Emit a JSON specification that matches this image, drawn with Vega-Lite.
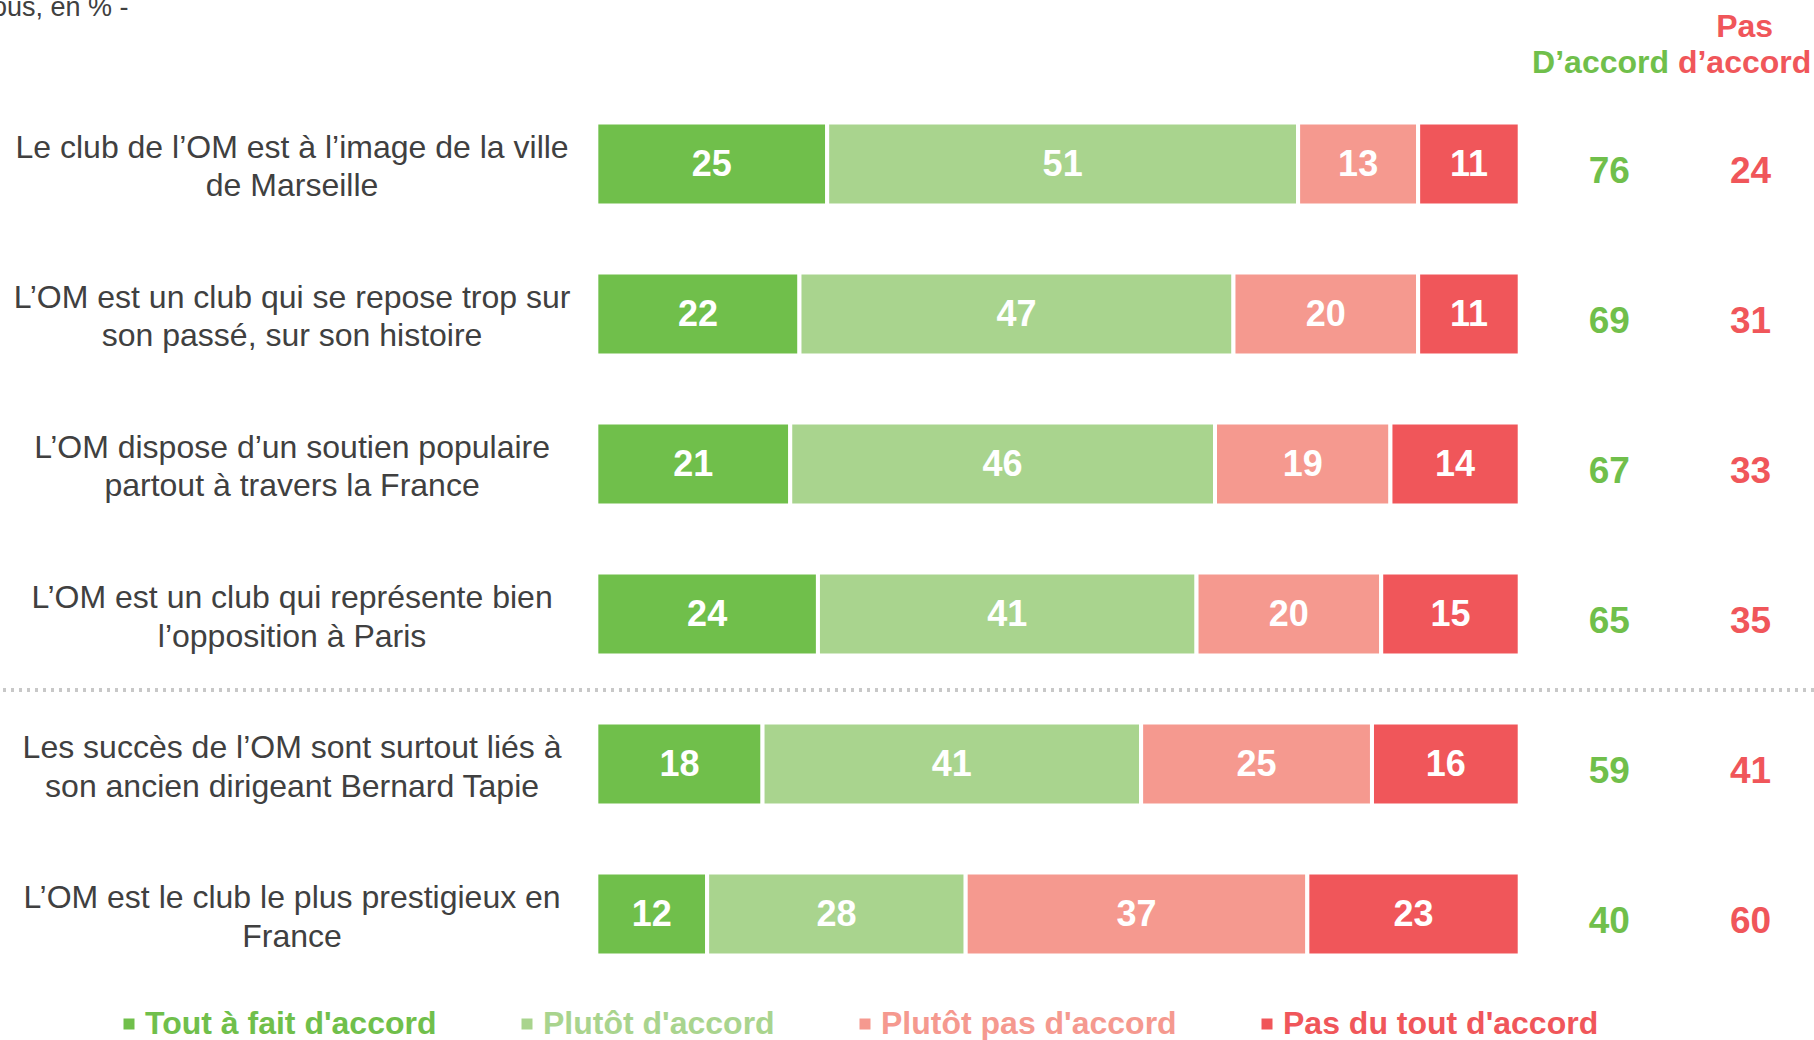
{
  "$schema": "https://vega.github.io/schema/vega-lite/v6.json",
  "width": 1814,
  "height": 900,
  "autosize": {"type": "none"},
  "padding": {"left": 0, "top": 89, "right": 0, "bottom": 51},
  "background": "white",
  "config": {
    "font": "Liberation Sans",
    "view": {"stroke": null},
    "title": {"font": "Liberation Sans"}
  },
  "title": {
    "text": "ous, en % -",
    "anchor": "start",
    "frame": "group",
    "fontSize": 27,
    "fontWeight": "normal",
    "color": "#404040",
    "baseline": "alphabetic",
    "dx": -8,
    "dy": 33,
    "offset": 0
  },
  "datasets": {
    "segments": [
      {"statement": "Le club de l’OM est à l’image de la ville\nde Marseille", "answer": "Tout à fait d'accord", "rank": 1, "value": 25},
      {"statement": "Le club de l’OM est à l’image de la ville\nde Marseille", "answer": "Plutôt d'accord", "rank": 2, "value": 51},
      {"statement": "Le club de l’OM est à l’image de la ville\nde Marseille", "answer": "Plutôt pas d'accord", "rank": 3, "value": 13},
      {"statement": "Le club de l’OM est à l’image de la ville\nde Marseille", "answer": "Pas du tout d'accord", "rank": 4, "value": 11},
      {"statement": "L’OM est un club qui se repose trop sur\nson passé, sur son histoire", "answer": "Tout à fait d'accord", "rank": 1, "value": 22},
      {"statement": "L’OM est un club qui se repose trop sur\nson passé, sur son histoire", "answer": "Plutôt d'accord", "rank": 2, "value": 47},
      {"statement": "L’OM est un club qui se repose trop sur\nson passé, sur son histoire", "answer": "Plutôt pas d'accord", "rank": 3, "value": 20},
      {"statement": "L’OM est un club qui se repose trop sur\nson passé, sur son histoire", "answer": "Pas du tout d'accord", "rank": 4, "value": 11},
      {"statement": "L’OM dispose d’un soutien populaire\npartout à travers la France", "answer": "Tout à fait d'accord", "rank": 1, "value": 21},
      {"statement": "L’OM dispose d’un soutien populaire\npartout à travers la France", "answer": "Plutôt d'accord", "rank": 2, "value": 46},
      {"statement": "L’OM dispose d’un soutien populaire\npartout à travers la France", "answer": "Plutôt pas d'accord", "rank": 3, "value": 19},
      {"statement": "L’OM dispose d’un soutien populaire\npartout à travers la France", "answer": "Pas du tout d'accord", "rank": 4, "value": 14},
      {"statement": "L’OM est un club qui représente bien\nl’opposition à Paris", "answer": "Tout à fait d'accord", "rank": 1, "value": 24},
      {"statement": "L’OM est un club qui représente bien\nl’opposition à Paris", "answer": "Plutôt d'accord", "rank": 2, "value": 41},
      {"statement": "L’OM est un club qui représente bien\nl’opposition à Paris", "answer": "Plutôt pas d'accord", "rank": 3, "value": 20},
      {"statement": "L’OM est un club qui représente bien\nl’opposition à Paris", "answer": "Pas du tout d'accord", "rank": 4, "value": 15},
      {"statement": "Les succès de l’OM sont surtout liés à\nson ancien dirigeant Bernard Tapie", "answer": "Tout à fait d'accord", "rank": 1, "value": 18},
      {"statement": "Les succès de l’OM sont surtout liés à\nson ancien dirigeant Bernard Tapie", "answer": "Plutôt d'accord", "rank": 2, "value": 41},
      {"statement": "Les succès de l’OM sont surtout liés à\nson ancien dirigeant Bernard Tapie", "answer": "Plutôt pas d'accord", "rank": 3, "value": 25},
      {"statement": "Les succès de l’OM sont surtout liés à\nson ancien dirigeant Bernard Tapie", "answer": "Pas du tout d'accord", "rank": 4, "value": 16},
      {"statement": "L’OM est le club le plus prestigieux en\nFrance", "answer": "Tout à fait d'accord", "rank": 1, "value": 12},
      {"statement": "L’OM est le club le plus prestigieux en\nFrance", "answer": "Plutôt d'accord", "rank": 2, "value": 28},
      {"statement": "L’OM est le club le plus prestigieux en\nFrance", "answer": "Plutôt pas d'accord", "rank": 3, "value": 37},
      {"statement": "L’OM est le club le plus prestigieux en\nFrance", "answer": "Pas du tout d'accord", "rank": 4, "value": 23}
    ],
    "rows": [
      {"statement": "Le club de l’OM est à l’image de la ville\nde Marseille", "accord": 76, "pas": 24},
      {"statement": "L’OM est un club qui se repose trop sur\nson passé, sur son histoire", "accord": 69, "pas": 31},
      {"statement": "L’OM dispose d’un soutien populaire\npartout à travers la France", "accord": 67, "pas": 33},
      {"statement": "L’OM est un club qui représente bien\nl’opposition à Paris", "accord": 65, "pas": 35},
      {"statement": "Les succès de l’OM sont surtout liés à\nson ancien dirigeant Bernard Tapie", "accord": 59, "pas": 41},
      {"statement": "L’OM est le club le plus prestigieux en\nFrance", "accord": 40, "pas": 60}
    ]
  },
  "resolve": {"axis": {"x": "independent"}},
  "layer": [
    {
      "data": {"name": "segments"},
      "mark": {"type": "bar", "stroke": "white", "strokeWidth": 4},
      "encoding": {
        "y": {
          "field": "statement",
          "type": "nominal",
          "sort": [
            "Le club de l’OM est à l’image de la ville\nde Marseille",
            "L’OM est un club qui se repose trop sur\nson passé, sur son histoire",
            "L’OM dispose d’un soutien populaire\npartout à travers la France",
            "L’OM est un club qui représente bien\nl’opposition à Paris",
            "Les succès de l’OM sont surtout liés à\nson ancien dirigeant Bernard Tapie",
            "L’OM est le club le plus prestigieux en\nFrance"
          ],
          "scale": {"paddingInner": 0.4467, "paddingOuter": 0.2233},
          "axis": null
        },
        "x": {
          "field": "value",
          "type": "quantitative",
          "stack": "zero",
          "scale": {"domain": [-64.58, 131.87], "nice": false, "zero": false},
          "axis": {
            "orient": "top",
            "values": [108.7, 124.3],
            "labelExpr": "datum.value < 115 ? ['', 'D’accord'] : ['Pas', 'd’accord']",
            "domain": false,
            "ticks": false,
            "grid": false,
            "title": null,
            "labelFontSize": 32,
            "labelFontWeight": "bold",
            "labelColor": {"condition": {"test": "datum.value < 115", "value": "#70BF4B"}, "value": "#F0565A"},
            "labelPadding": 46,
            "labelBaseline": "bottom",
            "labelLineHeight": 36.7,
            "labelFlush": false,
            "labelOverlap": false,
            "labelBound": false
          }
        },
        "color": {
          "field": "answer",
          "type": "nominal",
          "scale": {
            "domain": ["Tout à fait d'accord", "Plutôt d'accord", "Plutôt pas d'accord", "Pas du tout d'accord"],
            "range": ["#70BF4B", "#A9D48E", "#F5998F", "#F0565A"]
          },
          "legend": {
            "orient": "none",
            "legendX": 113,
            "legendY": 919,
            "direction": "horizontal",
            "columns": 4,
            "title": null,
            "labelFontSize": 32,
            "labelFontWeight": "bold",
            "labelColor": {"expr": "scale('color', datum.value)"},
            "symbolType": "square",
            "symbolSize": 121,
            "symbolStrokeWidth": 0,
            "labelOffset": 0,
            "columnPadding": 74,
            "padding": 0,
            "labelLimit": 600
          }
        },
        "order": {"field": "rank", "type": "quantitative"}
      }
    },
    {
      "data": {"name": "rows"},
      "mark": {"type": "rule", "color": "#C8C8C8", "strokeWidth": 3, "strokeDash": [3, 5]},
      "encoding": {
        "y": {
          "datum": "L’OM est un club qui représente bien\nl’opposition à Paris",
          "type": "nominal",
          "bandPosition": 1.416,
          "sort": [
            "Le club de l’OM est à l’image de la ville\nde Marseille",
            "L’OM est un club qui se repose trop sur\nson passé, sur son histoire",
            "L’OM dispose d’un soutien populaire\npartout à travers la France",
            "L’OM est un club qui représente bien\nl’opposition à Paris",
            "Les succès de l’OM sont surtout liés à\nson ancien dirigeant Bernard Tapie",
            "L’OM est le club le plus prestigieux en\nFrance"
          ],
          "axis": null
        }
      }
    },
    {
      "data": {"name": "segments"},
      "mark": {"type": "text", "color": "white", "fontSize": 36, "fontWeight": "bold", "baseline": "middle", "align": "center", "dy": 1},
      "encoding": {
        "y": {
          "field": "statement",
          "type": "nominal",
          "sort": [
            "Le club de l’OM est à l’image de la ville\nde Marseille",
            "L’OM est un club qui se repose trop sur\nson passé, sur son histoire",
            "L’OM dispose d’un soutien populaire\npartout à travers la France",
            "L’OM est un club qui représente bien\nl’opposition à Paris",
            "Les succès de l’OM sont surtout liés à\nson ancien dirigeant Bernard Tapie",
            "L’OM est le club le plus prestigieux en\nFrance"
          ],
          "axis": null
        },
        "x": {
          "field": "value",
          "type": "quantitative",
          "stack": "zero",
          "bandPosition": 0.5,
          "axis": null
        },
        "text": {"field": "value", "type": "quantitative"},
        "order": {"field": "rank", "type": "quantitative"}
      }
    },
    {
      "data": {"name": "rows"},
      "mark": {"type": "text", "color": "#404040", "fontSize": 32, "lineBreak": "\n", "lineHeight": 38.5, "align": "center", "baseline": "middle", "dy": -16},
      "encoding": {
        "y": {
          "field": "statement",
          "type": "nominal",
          "sort": [
            "Le club de l’OM est à l’image de la ville\nde Marseille",
            "L’OM est un club qui se repose trop sur\nson passé, sur son histoire",
            "L’OM dispose d’un soutien populaire\npartout à travers la France",
            "L’OM est un club qui représente bien\nl’opposition à Paris",
            "Les succès de l’OM sont surtout liés à\nson ancien dirigeant Bernard Tapie",
            "L’OM est le club le plus prestigieux en\nFrance"
          ],
          "axis": null
        },
        "x": {"datum": -32.95, "type": "quantitative", "axis": null},
        "text": {"field": "statement", "type": "nominal"}
      }
    },
    {
      "data": {"name": "rows"},
      "mark": {"type": "text", "color": "#70BF4B", "fontSize": 37, "fontWeight": "bold", "align": "center", "baseline": "middle", "dy": 8},
      "encoding": {
        "y": {
          "field": "statement",
          "type": "nominal",
          "sort": [
            "Le club de l’OM est à l’image de la ville\nde Marseille",
            "L’OM est un club qui se repose trop sur\nson passé, sur son histoire",
            "L’OM dispose d’un soutien populaire\npartout à travers la France",
            "L’OM est un club qui représente bien\nl’opposition à Paris",
            "Les succès de l’OM sont surtout liés à\nson ancien dirigeant Bernard Tapie",
            "L’OM est le club le plus prestigieux en\nFrance"
          ],
          "axis": null
        },
        "x": {"datum": 109.7, "type": "quantitative", "axis": null},
        "text": {"field": "accord", "type": "quantitative"}
      }
    },
    {
      "data": {"name": "rows"},
      "mark": {"type": "text", "color": "#F0565A", "fontSize": 37, "fontWeight": "bold", "align": "center", "baseline": "middle", "dy": 8},
      "encoding": {
        "y": {
          "field": "statement",
          "type": "nominal",
          "sort": [
            "Le club de l’OM est à l’image de la ville\nde Marseille",
            "L’OM est un club qui se repose trop sur\nson passé, sur son histoire",
            "L’OM dispose d’un soutien populaire\npartout à travers la France",
            "L’OM est un club qui représente bien\nl’opposition à Paris",
            "Les succès de l’OM sont surtout liés à\nson ancien dirigeant Bernard Tapie",
            "L’OM est le club le plus prestigieux en\nFrance"
          ],
          "axis": null
        },
        "x": {"datum": 125.0, "type": "quantitative", "axis": null},
        "text": {"field": "pas", "type": "quantitative"}
      }
    }
  ]
}
